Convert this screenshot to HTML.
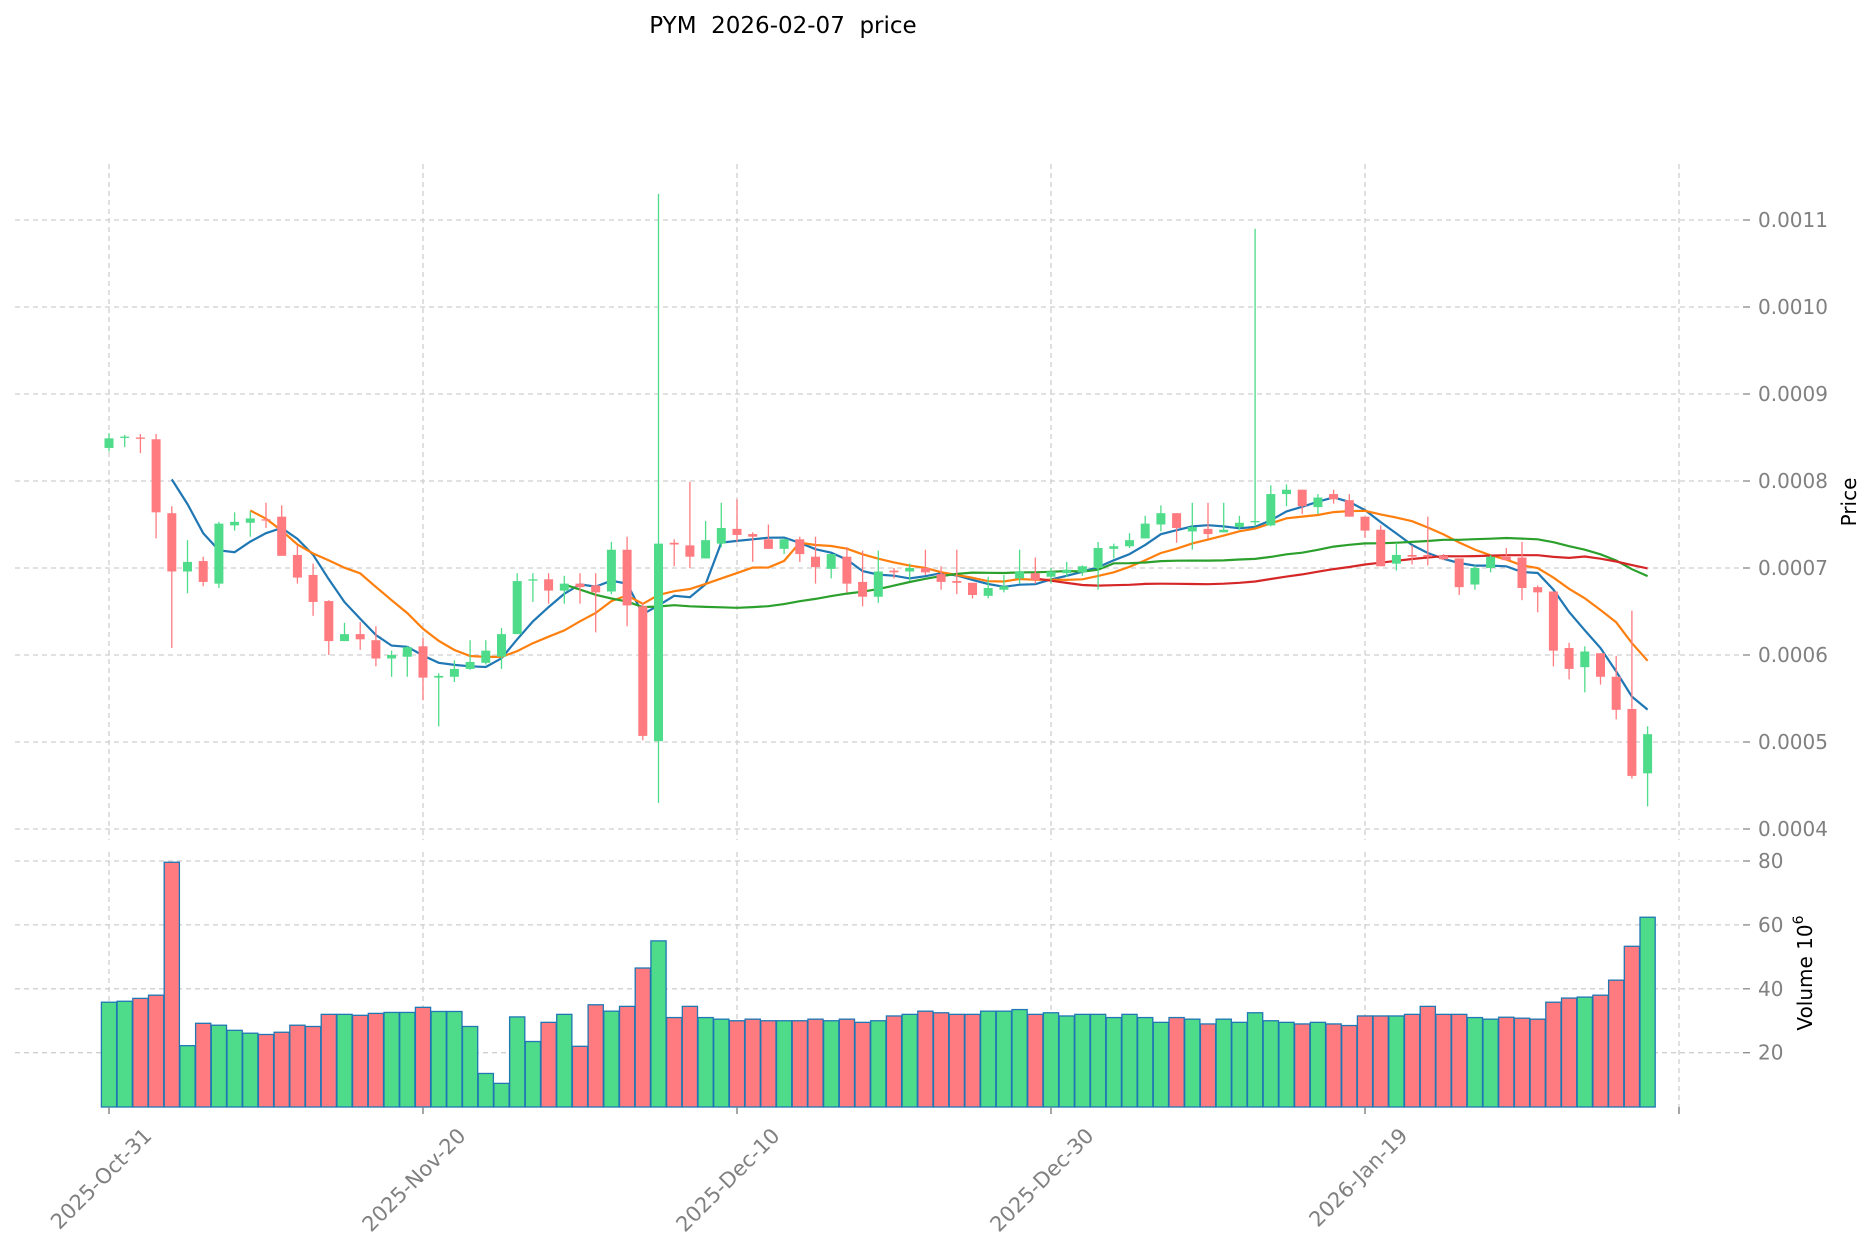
<!DOCTYPE html>
<html><head><meta charset="utf-8"><style>
html,body{margin:0;padding:0;background:#fff;}
svg{display:block;font-family:"DejaVu Sans","Liberation Sans",sans-serif;}
</style></head><body>
<svg id="chart" width="1873" height="1246" viewBox="0 0 1873 1246" xmlns="http://www.w3.org/2000/svg">
<text x="783" y="33" text-anchor="middle" font-size="23" fill="#000" xml:space="preserve">PYM  2026-02-07  price</text>
<g id="grid"></g>
<g id="vol"></g>
<g id="ma"></g>
<g id="candles"></g>
<g id="axes"></g>
</svg>
<script>
const opens  = [8.38,8.50,8.50,8.48,7.63,6.96,7.08,6.82,7.49,7.52,7.56,7.59,7.15,6.92,6.62,6.16,6.24,6.17,5.96,5.98,6.10,5.74,5.75,5.84,5.91,5.98,6.24,6.86,6.87,6.74,6.82,6.80,6.73,7.21,6.56,5.01,7.29,7.26,7.11,7.28,7.45,7.39,7.33,7.22,7.33,7.13,6.99,7.13,6.84,6.67,6.97,6.96,7.00,6.93,6.85,6.83,6.68,6.75,6.88,6.94,6.90,6.94,6.95,7.00,7.22,7.25,7.34,7.50,7.63,7.42,7.45,7.41,7.47,7.53,7.49,7.85,7.90,7.70,7.85,7.78,7.59,7.44,7.05,7.15,7.15,7.14,7.11,6.81,7.00,7.13,7.12,6.78,6.73,6.08,5.86,6.02,5.75,5.38,4.64];
const closes = [8.49,8.51,8.49,7.64,6.96,7.07,6.84,7.51,7.53,7.57,7.55,7.14,6.89,6.61,6.16,6.24,6.18,5.96,6.00,6.09,5.74,5.76,5.84,5.92,6.05,6.24,6.85,6.87,6.74,6.82,6.78,6.72,7.21,6.57,5.07,7.28,7.27,7.13,7.32,7.46,7.38,7.36,7.22,7.33,7.16,7.01,7.16,6.82,6.67,6.96,6.95,7.00,6.95,6.84,6.83,6.69,6.77,6.79,6.96,6.86,6.96,6.98,7.02,7.23,7.25,7.32,7.51,7.63,7.46,7.47,7.39,7.44,7.52,7.54,7.85,7.90,7.71,7.81,7.79,7.59,7.43,7.02,7.15,7.13,7.13,7.10,6.78,7.00,7.13,7.09,6.77,6.72,6.05,5.84,6.04,5.75,5.37,4.61,5.09];
const highs  = [8.55,8.53,8.54,8.54,7.71,7.32,7.13,7.53,7.64,7.65,7.75,7.72,7.26,7.05,6.63,6.37,6.38,6.33,6.05,6.10,6.20,5.79,5.94,6.17,6.17,6.31,6.94,6.94,6.94,6.91,6.94,6.94,7.30,7.36,6.60,11.3,7.33,7.99,7.54,7.75,7.79,7.41,7.50,7.34,7.36,7.36,7.16,7.24,7.20,7.20,7.00,7.05,7.21,7.02,7.21,6.83,6.90,6.92,7.21,7.12,7.00,7.07,7.03,7.30,7.28,7.40,7.60,7.72,7.63,7.75,7.75,7.75,7.60,10.9,7.95,7.96,7.90,7.85,7.90,7.85,7.59,7.49,7.29,7.26,7.59,7.16,7.11,7.03,7.15,7.23,7.30,6.80,6.73,6.14,6.10,6.02,5.99,6.51,5.18];
const lows   = [8.34,8.39,8.32,7.34,6.08,6.71,6.79,6.77,7.43,7.36,7.46,7.14,6.82,6.45,6.00,6.16,6.06,5.87,5.75,5.75,5.48,5.18,5.69,5.83,5.89,5.84,6.24,6.61,6.59,6.59,6.59,6.26,6.70,6.33,5.02,4.30,7.02,7.00,7.11,7.24,7.30,7.07,7.22,7.16,7.07,6.82,6.88,6.72,6.56,6.60,6.88,6.85,6.92,6.75,6.70,6.65,6.65,6.72,6.82,6.82,6.82,6.90,6.91,6.75,7.11,7.23,7.34,7.42,7.29,7.21,7.34,7.41,7.44,7.48,7.48,7.71,7.62,7.62,7.74,7.59,7.35,7.02,6.97,7.04,7.03,7.09,6.69,6.75,6.95,7.09,6.63,6.49,5.87,5.72,5.57,5.66,5.26,4.58,4.26];
const volumes = [35.8,36.1,37.0,38.0,79.6,22.2,29.2,28.6,27.0,26.1,25.7,26.4,28.6,28.2,32.0,32.0,31.7,32.3,32.6,32.6,34.2,32.9,32.9,28.2,13.5,10.4,31.2,23.5,29.5,32.0,22.0,35.0,33.0,34.5,46.5,55.0,31.0,34.5,31.0,30.5,30.0,30.5,30.0,30.0,30.0,30.5,30.0,30.5,29.5,30.0,31.5,32.0,33.0,32.5,32.0,32.0,33.0,33.0,33.5,32.0,32.5,31.5,32.0,32.0,31.0,32.0,31.0,29.5,31.0,30.5,29.0,30.5,29.5,32.5,30.0,29.5,29.0,29.5,29.0,28.5,31.5,31.5,31.5,32.0,34.5,32.0,32.0,31.0,30.5,31.1,30.8,30.5,35.8,37.1,37.4,38.0,42.7,53.3,62.4];
const mavPeriods = [5,10,30,60];
const xTickIdx = [0,20,40,60,80,100];
const xTickLabels = ["2025-Oct-31","2025-Nov-20","2025-Dec-10","2025-Dec-30","2026-Jan-19",""];
const priceTicks = [4,5,6,7,8,9,10,11];
const priceTickLabels = ["0.0004","0.0005","0.0006","0.0007","0.0008","0.0009","0.0010","0.0011"];
const volTicks = [20,40,60,80];

const NS="http://www.w3.org/2000/svg";
const X=i=>109+15.7*i;
const YP=v=>481-(v-8)*87;
const YV=v=>1052.7-(v-20)*3.195;
const PT=164,PB=840,VT=852,VB=1107,L=15,R=1743;
function mk(tag,attrs,parent){const e=document.createElementNS(NS,tag);for(const k in attrs)e.setAttribute(k,attrs[k]);parent.appendChild(e);return e;}
const grid=document.getElementById('grid'),axes=document.getElementById('axes');
const gc="#cfcfcf";
priceTicks.forEach((t,k)=>{
  const y=YP(t);
  const l=mk('line',{x1:L,x2:R,y1:y,y2:y,stroke:gc,'stroke-width':1.3,'stroke-dasharray':'5,4'},grid);
  
  
  mk('line',{x1:R,x2:R+7,y1:y,y2:y,stroke:'#888','stroke-width':1.3},axes);
  const tx=mk('text',{x:1758,y:y+7,'font-size':20,fill:'#808080'},axes);
  tx.textContent=priceTickLabels[k];
  
  
});
volTicks.forEach(t=>{
  const y=YV(t);
  const l=mk('line',{x1:L,x2:R,y1:y,y2:y,stroke:gc,'stroke-width':1.3,'stroke-dasharray':'5,4'},grid);
  
  
  mk('line',{x1:R,x2:R+7,y1:y,y2:y,stroke:'#888','stroke-width':1.3},axes);
  const tx=mk('text',{x:1758,y:y+7,'font-size':20,fill:'#808080'},axes);
  tx.textContent=String(t);
  
  
});
xTickIdx.forEach((i,k)=>{
  const x=X(i);
  mk('line',{x1:x,x2:x,y1:PT,y2:PB,stroke:gc,'stroke-width':1.3,'stroke-dasharray':'5,4'},grid);
  const g=mk('line',{x1:x,x2:x,y1:VT,y2:VB,stroke:gc,'stroke-width':1.3,'stroke-dasharray':'5,4'},grid);
  
  
  mk('line',{x1:x,x2:x,y1:VB,y2:VB+7,stroke:'#888','stroke-width':1.5},axes);
  if(xTickLabels[k]){
    const tx=mk('text',{x:0,y:0,'font-size':21,fill:'#808080','text-anchor':'end',transform:`translate(${x+44},${VB+30}) rotate(-45)`},axes);
    tx.textContent=xTickLabels[k];
    
    
  }
});
const pl=mk('text',{x:0,y:0,'font-size':20,fill:'#000','text-anchor':'middle',transform:'translate(1856,502) rotate(-90)'},axes);
pl.textContent='Price';


const vl=mk('text',{x:0,y:0,'font-size':20,fill:'#000','text-anchor':'middle',transform:'translate(1812,973) rotate(-90)'},axes);
vl.innerHTML='Volume  10<tspan dy="-9" font-size="14">6</tspan>';



const UP="#4fdc8a",DN="#ff7b80";
const vg=document.getElementById('vol');
volumes.forEach((v,i)=>{
  const up=closes[i]>=opens[i];
  const y=YV(v);
  const r=mk('rect',{x:X(i)-7.6,y:y,width:15.2,height:VB-y,fill:up?UP:DN,stroke:'#1f77b4','stroke-width':1.3},vg);
  
  
});
const cg=document.getElementById('candles');
opens.forEach((o,i)=>{
  const c=closes[i],up=c>=o,col=up?UP:DN,x=X(i);
  const w=mk('line',{x1:x,x2:x,y1:YP(highs[i]),y2:YP(lows[i]),stroke:col,'stroke-width':1.3},cg);
  
  
  const t=YP(Math.max(o,c)),b=YP(Math.min(o,c));
  const r=mk('rect',{x:x-4.5,y:t,width:9,height:Math.max(b-t,1.3),fill:col},cg);
  
  
});
const mg=document.getElementById('ma');
const maColors=['#1f77b4','#ff7f0e','#2ca02c','#d62728'];
mavPeriods.forEach((p,k)=>{
  const pts=[];
  for(let i=p-1;i<closes.length;i++){let s=0;for(let j=i-p+1;j<=i;j++)s+=closes[j];pts.push(X(i).toFixed(1)+','+YP(s/p).toFixed(1));}
  const pl=mk('polyline',{points:pts.join(' '),fill:'none',stroke:maColors[k],'stroke-width':2.2},mg);
  
  
});
</script>
</body></html>
